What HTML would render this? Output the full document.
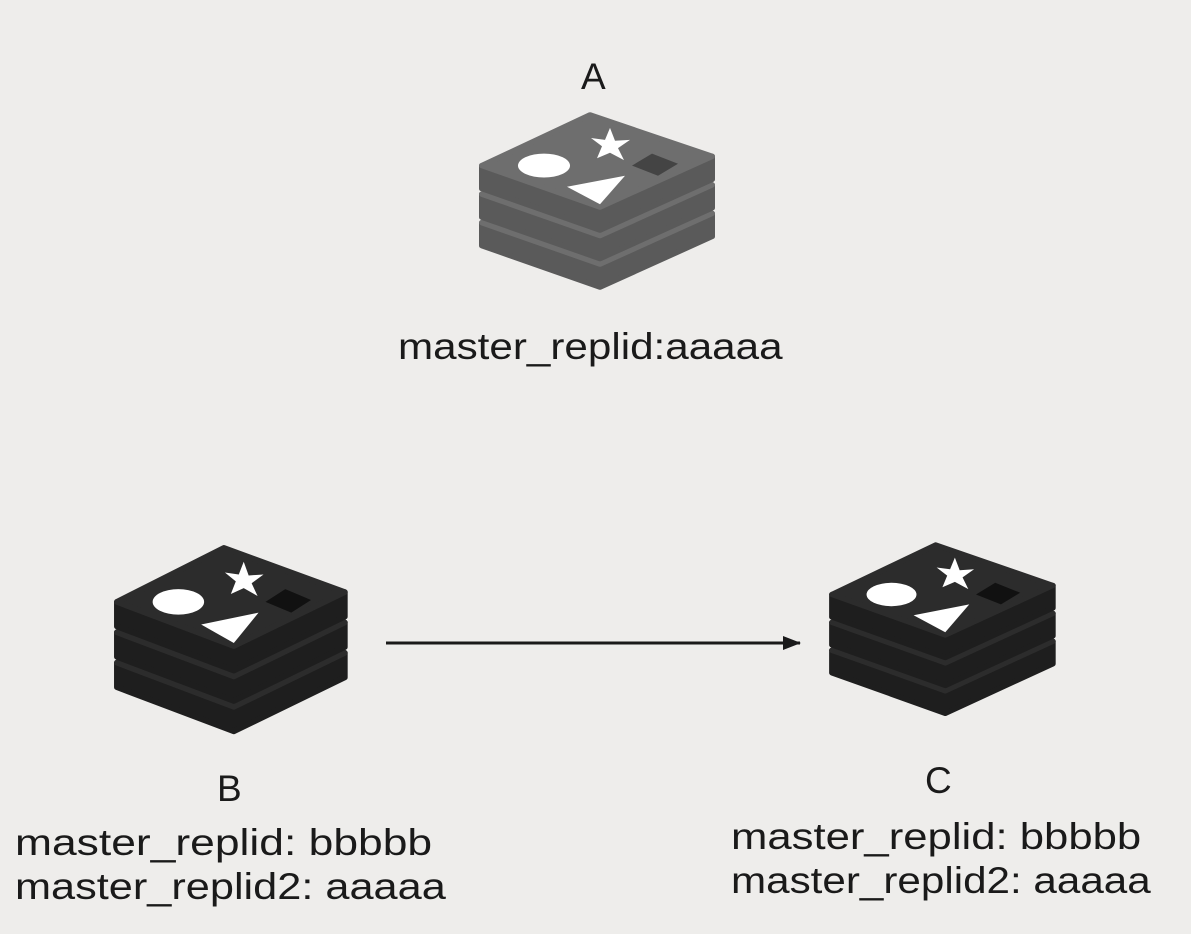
<!DOCTYPE html>
<html><head><meta charset="utf-8"><style>
html,body{margin:0;padding:0;background:#eeedeb;}
body{width:1191px;height:934px;position:relative;overflow:hidden;font-family:"Liberation Sans","DejaVu Sans",sans-serif;color:#1a1a1a;}
.t{position:absolute;white-space:nowrap;font-size:37px;line-height:1;transform-origin:0 0;}
</style></head><body>
<svg width="1191" height="934" style="position:absolute;left:0;top:0">
<defs>
<g id="icon">
 <g transform="translate(0,62)">
  <polygon points="0,55 118,100 230,45 230,70 118,125 0,80" fill="var(--s)" stroke="var(--s)" stroke-width="6" stroke-linejoin="round"/>
  <polygon points="0,55 108,0 230,45 118,100" fill="var(--m)" stroke="var(--m)" stroke-width="6" stroke-linejoin="round"/>
 </g>
 <g transform="translate(0,31)">
  <polygon points="0,55 118,100 230,45 230,70 118,125 0,80" fill="var(--s)" stroke="var(--s)" stroke-width="6" stroke-linejoin="round"/>
  <polygon points="0,55 108,0 230,45 118,100" fill="var(--m)" stroke="var(--m)" stroke-width="6" stroke-linejoin="round"/>
 </g>
 <g>
  <polygon points="0,55 118,100 230,45 230,70 118,125 0,80" fill="var(--s)" stroke="var(--s)" stroke-width="6" stroke-linejoin="round"/>
  <polygon points="0,55 108,0 230,45 118,100" fill="var(--m)" stroke="var(--m)" stroke-width="6" stroke-linejoin="round"/>
  <ellipse cx="62" cy="55" rx="26" ry="13" fill="#fff"/>
  <polygon points="128,14 133,28 148,27 136,36 142,49 128,41 115,47 120,34 109,25 123,27" fill="#fff"/>
  <polygon points="85,78 143,66 118,97" fill="#fff"/>
  <polygon points="150,55 170,42 196,53 176,66" fill="var(--d)"/>
 </g>
</g>
<marker id="ar" markerWidth="18" markerHeight="14" refX="17" refY="7" orient="auto" markerUnits="userSpaceOnUse">
 <polygon points="0,0 18,7 0,14" fill="#1a1a1a"/>
</marker>
</defs>
<use href="#icon" transform="translate(482,115) scale(1,0.92)" style="--m:#6e6e6e;--s:#5a5a5a;--d:#444"/>
<use href="#icon" transform="translate(117,548) scale(0.99,0.98)" style="--m:#2c2c2c;--s:#1e1e1e;--d:#111"/>
<use href="#icon" transform="translate(832,545) scale(0.96,0.9)" style="--m:#2c2c2c;--s:#1e1e1e;--d:#111"/>
<line x1="386" y1="643" x2="800" y2="643" stroke="#1a1a1a" stroke-width="3" marker-end="url(#ar)"/>
</svg>
<div class="t" style="left:581px;top:58px;">A</div>
<div class="t" style="left:398px;top:328px;transform:scaleX(1.14)">master_replid:aaaaa</div>
<div class="t" style="left:217px;top:770px;">B</div>
<div class="t" style="left:15px;top:824px;transform:scaleX(1.2)">master_replid: bbbbb</div>
<div class="t" style="left:15px;top:868px;transform:scaleX(1.17)">master_replid2: aaaaa</div>
<div class="t" style="left:925px;top:762px;">C</div>
<div class="t" style="left:731px;top:818px;transform:scaleX(1.18)">master_replid: bbbbb</div>
<div class="t" style="left:731px;top:862px;transform:scaleX(1.14)">master_replid2: aaaaa</div>
</body></html>
